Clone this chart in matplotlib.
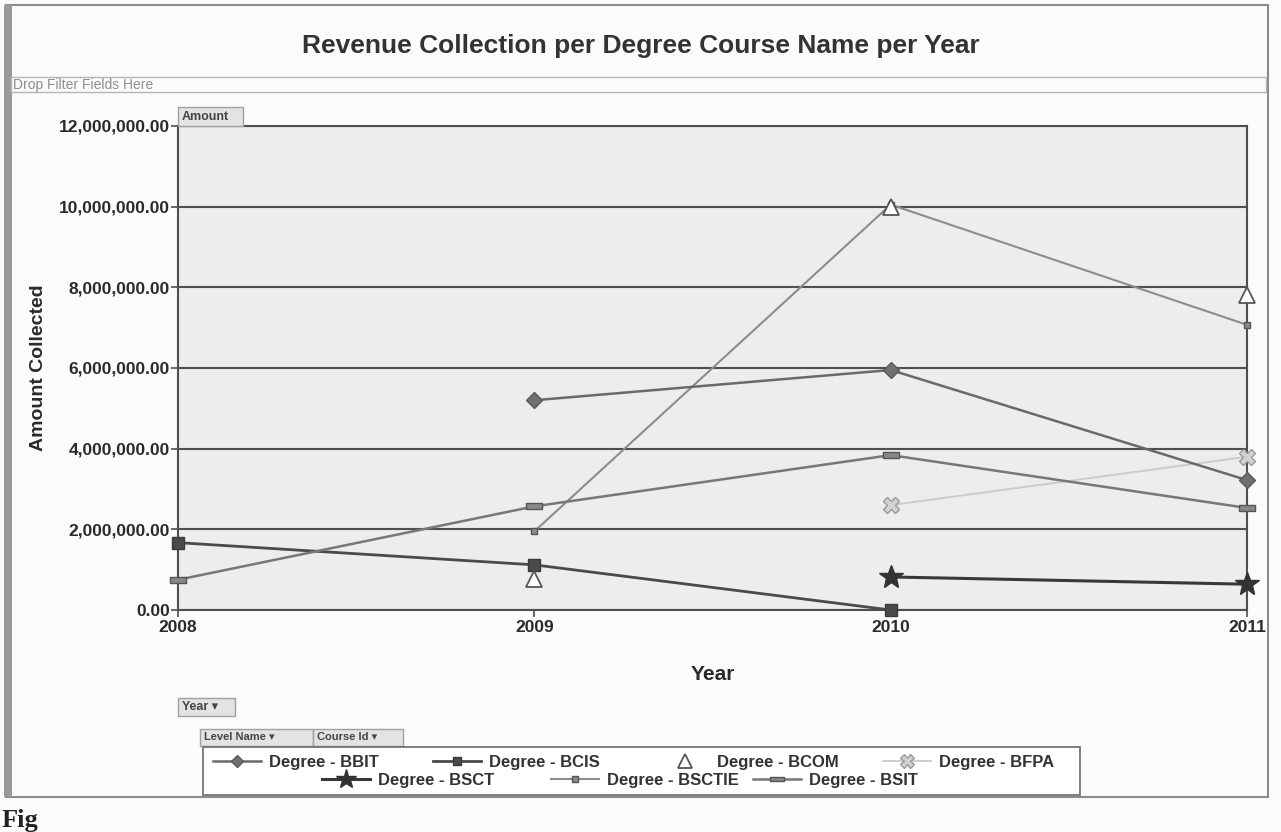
import numpy as np
import matplotlib.pyplot as plt
from matplotlib.patches import Rectangle
from matplotlib.ticker import FuncFormatter

plt.rcParams['font.family'] = ['Liberation Sans', 'DejaVu Sans']

years = [2008, 2009, 2010, 2011]
nan = np.nan

bbit = [nan, 5200000, 5950000, 3220000]
bcis = [1670000, 1120000, 0, nan]
bcom = [nan, 780000, 10000000, 7800000]
bfpa = [nan, nan, 2600000, 3800000]
bsct = [nan, nan, 820000, 640000]
bsctie = [nan, 1950000, 10050000, 7070000]
bsit = [750000, 2570000, 3840000, 2530000]

names = ["Degree - BBIT", "Degree - BCIS", "Degree - BCOM", "Degree - BFPA",
         "Degree - BSCT", "Degree - BSCTIE", "Degree - BSIT"]

W, H = 1281, 832
fig = plt.figure(figsize=(W / 100, H / 100), dpi=100)
fig.patch.set_facecolor('#fbfbfb')

ax = fig.add_axes([0.139, 0.2668, 0.8345, 0.5818])
ax.set_facecolor('#ededed')

# a wide flat box for the BSIT points
bar_marker = [(-1.7, -0.6), (1.7, -0.6), (1.7, 0.6), (-1.7, 0.6), (-1.7, -0.6)]

h_bbit, = ax.plot(years, bbit, color='#6a6a6a', lw=1.8, marker='D', ms=8,
                  mfc='#707070', mec='#5a5a5a', zorder=5, clip_on=False)
h_bcis, = ax.plot(years, bcis, color='#4a4a4a', lw=2.0, marker='s', ms=8,
                  mfc='#4a4a4a', mec='#3a3a3a', zorder=5, clip_on=False)
h_bfpa, = ax.plot(years, bfpa, color='#cacaca', lw=1.3, marker='X', ms=12,
                  mfc='#d2d2d2', mec='#9a9a9a', zorder=4, clip_on=False)
h_bsct, = ax.plot(years, bsct, color='#383838', lw=2.2, marker='*', ms=18,
                  mfc='#333333', mec='#333333', zorder=6, clip_on=False)
h_bsctie, = ax.plot(years, bsctie, color='#8c8c8c', lw=1.5, marker='s', ms=5,
                    mfc='#8a8a8a', mec='#555555', zorder=4, clip_on=False)
h_bsit, = ax.plot(years, bsit, color='#777777', lw=1.8, marker=bar_marker, ms=12,
                  mfc='#888888', mec='#555555', zorder=5, clip_on=False)
h_bcom, = ax.plot(years, bcom, ls='none', marker='^', ms=12,
                  mfc='white', mec='#555555', mew=1.3, zorder=7, clip_on=False)

ax.set_xlim(2008, 2011)
ax.set_ylim(0, 12000000)
ax.set_yticks(np.arange(0, 12000001, 2000000))
ax.set_xticks(years)
ax.yaxis.set_major_formatter(FuncFormatter(lambda v, p: "{:,.2f}".format(v)))
ax.grid(axis='y', color='#4f4f4f', lw=1.5)
ax.set_axisbelow(True)
for s in ax.spines.values():
    s.set_color('#4f4f4f')
    s.set_linewidth(1.5)
ax.tick_params(axis='both', colors='#4f4f4f', length=5, width=1.2,
               labelcolor='#2a2a2a', labelsize=12.5)
for lbl in ax.get_xticklabels() + ax.get_yticklabels():
    lbl.set_fontweight('bold')
ax.tick_params(axis='x', pad=2)
ax.tick_params(axis='y', pad=1)

ax.set_ylabel("Amount Collected", fontsize=14, fontweight='bold', color='#2a2a2a', labelpad=8)
ax.set_xlabel("Year", fontsize=15, fontweight='bold', color='#2a2a2a', labelpad=22)

fig.text(0.5, 0.945, "Revenue Collection per Degree Course Name per Year",
         ha='center', va='center', fontsize=19, fontweight='bold', color='#333333')


def px_box(x0, y0, x1, y1):
    # pixel rectangle (top-left origin) -> figure fraction
    return (x0 / W, 1 - y1 / H), (x1 - x0) / W, (y1 - y0) / H


# outer frame of the report page
xy, w, h = px_box(6, 5, 1268, 797)
fig.add_artist(Rectangle(xy, w, h, transform=fig.transFigure, fill=False, ec='#8a8a8a', lw=1.5))
xy, w, h = px_box(4, 5, 12, 797)
fig.add_artist(Rectangle(xy, w, h, transform=fig.transFigure, fc='#9a9a9a', ec='none'))

# filter drop zone
xy, w, h = px_box(11, 77, 1266, 92)
fig.add_artist(Rectangle(xy, w, h, transform=fig.transFigure, fill=False, ec='#b5b5b5', lw=1))
fig.text(13 / W, 1 - 85 / H, "Drop Filter Fields Here", fontsize=10, color='#8e8e8e', va='center')


def button(x0, y0, x1, y1, text, size=8):
    xy, w, h = px_box(x0, y0, x1, y1)
    fig.add_artist(Rectangle(xy, w, h, transform=fig.transFigure,
                             fc='#e3e3e3', ec='#a0a0a0', lw=1))
    fig.text((x0 + 4) / W, 1 - (y0 + y1) / 2 / H, text, fontsize=size, fontweight='bold',
             color='#444444', va='center')


button(178, 107, 243, 126, "Amount", 9)
button(178, 698, 235, 716, "Year \u25be", 9)
button(200, 729, 313, 746, "Level Name \u25be", 8)
button(313, 729, 403, 746, "Course Id \u25be", 8)

# legend box, one entry placed at a time
xy, w, h = px_box(203, 747, 1080, 795)
fig.add_artist(Rectangle(xy, w, h, transform=fig.transFigure, fc='white', ec='#6a6a6a', lw=1.2))

handles = [h_bbit, h_bcis, h_bcom, h_bfpa, h_bsct, h_bsctie, h_bsit]
starts = [213, 433, 661, 883, 322, 551, 753]
rows = [762, 762, 762, 762, 780, 780, 780]
for hd, name, x0, yr in zip(handles, names, starts, rows):
    leg = fig.legend([hd], [name], loc='center left', bbox_to_anchor=(x0 / W, 1 - yr / H),
                     frameon=False, fontsize=12, handlelength=2.9, handletextpad=0.45,
                     borderpad=0, borderaxespad=0, markerscale=0.8)
    for t in leg.get_texts():
        t.set_fontweight('bold')
        t.set_color('#333333')

fig.text(0.001, 0.006, "Fig", fontsize=19, fontweight='bold', family='Liberation Serif',
         color='#222222')

fig.savefig('out.png', dpi=100, facecolor=fig.get_facecolor())
